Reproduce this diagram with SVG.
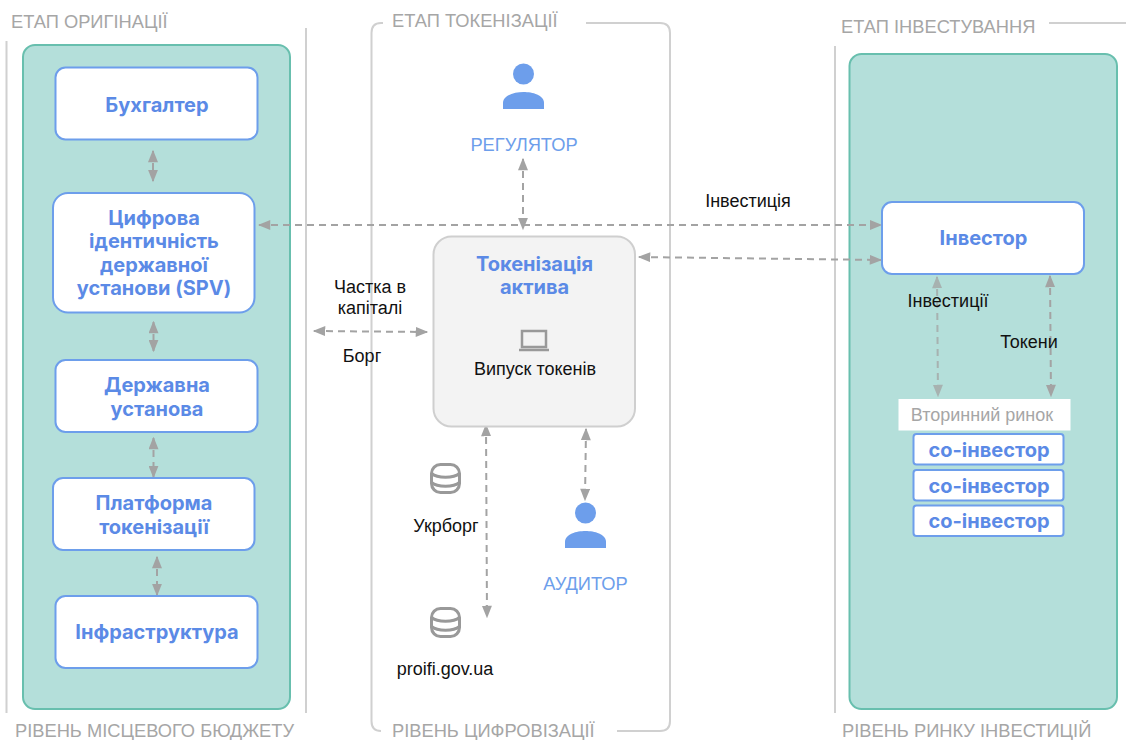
<svg xmlns="http://www.w3.org/2000/svg" width="1126" height="740" viewBox="0 0 1126 740">
<style>
.frame{fill:none;stroke:#d0d0d0;stroke-width:2}
.panel{fill:#b4dfda;stroke:#68bfae;stroke-width:2}
.box{fill:#fff;stroke:#6d9eeb;stroke-width:2}
.title{font:700 20px Inter,"Liberation Sans",sans-serif;fill:#5b8ae6;text-anchor:middle}
.stage{font:400 18.300px "Liberation Sans",sans-serif;fill:#a6a6a6}
.role{font:400 18.300px "Liberation Sans",sans-serif;fill:#6d9eeb;text-anchor:middle}
.lbl{font:400 18px "Liberation Sans",sans-serif;fill:#111;text-anchor:middle}
.c{fill:none;stroke:#a3a3a3;stroke-width:2;stroke-dasharray:7 5;marker-start:url(#a);marker-end:url(#a)}
.t{opacity:.75}
.person{fill:#6d9eeb}
.db{fill:none;stroke:#999;stroke-width:3}
</style>
<defs>
<marker id="a" viewBox="0 0 10 8" refX="9" refY="4" markerWidth="13" markerHeight="10" markerUnits="userSpaceOnUse" orient="auto-start-reverse"><path d="M0 0L10 4L0 8z" fill="#a3a3a3"/></marker>
<g id="personIcon"><circle cx="0" cy="-35" r="10.500"/><path d="M-20.500 0V-6C-20.500 -14 -9 -17 0 -17S20.500 -14 20.500 -6V0z"/></g>
<g id="dbIcon"><rect x="-14" y="-14" width="28" height="28" rx="9" class="db"/><path d="M-14 -5C-8 0 8 0 14 -5M-14 4C-8 9 8 9 14 4" class="db"/></g>
</defs>
<g id="frames">
<path class="frame" d="M6.500 41V713M306 28V713M835 46V713M1049 23H1126"/>
<path class="frame" d="M381 23H383M586 23H660Q670 23 670 33V721Q670 731 660 731H617M381 731Q371.500 731 371.500 721V33Q371.500 23 381 23"/>
</g>
<g id="panels">
<rect class="panel" x="23" y="45" width="267" height="664" rx="12"/>
<rect class="panel" x="849.500" y="54" width="267.500" height="655" rx="12"/>
</g>
<g id="stage-labels">
<text class="stage" x="11" y="28">ЕТАП ОРИГІНАЦІЇ</text>
<text class="stage" x="392" y="27">ЕТАП ТОКЕНІЗАЦІЇ</text>
<text class="stage" x="841" y="33">ЕТАП ІНВЕСТУВАННЯ</text>
<text class="stage" x="15" y="737">РІВЕНЬ МІСЦЕВОГО БЮДЖЕТУ</text>
<text class="stage" x="392" y="737">РІВЕНЬ ЦИФРОВІЗАЦІЇ</text>
<text class="stage" x="842" y="737">РІВЕНЬ РИНКУ ІНВЕСТИЦІЙ</text>
</g>
<g id="connectors">
<path class="c" d="M153 151V181"/>
<path class="c" d="M153.500 322V351"/>
<path class="c" d="M153.500 438V477"/>
<path class="c" d="M157 557V595"/>
<path class="c" d="M259 225H881"/>
<path class="c" d="M523 159V229"/>
<path class="c" d="M639 257L881 260"/>
<path class="c" d="M314 331L427 332"/>
<path class="c" d="M486 425L487 617"/>
<path class="c" d="M586 429L585 500"/>
<path class="c t" d="M937 277L938 396"/>
<path class="c" d="M1050 276L1051 396"/>
</g>
<g id="bookkeeper"><rect class="box" x="55.500" y="67.500" width="202" height="72" rx="10"/><text class="title" x="157" y="112">Бухгалтер</text></g>
<g id="digital-id"><rect class="box" x="53" y="193" width="201.500" height="119.500" rx="15"/><text class="title"><tspan x="154" y="225">Цифрова</tspan><tspan x="154" y="248">ідентичність</tspan><tspan x="154" y="272">державної</tspan><tspan x="154" y="295">установи (SPV)</tspan></text></g>
<g id="state-inst"><rect class="box" x="55.500" y="360" width="202" height="72" rx="10"/><text class="title"><tspan x="157" y="392">Державна</tspan><tspan x="157" y="416">установа</tspan></text></g>
<g id="platform"><rect class="box" x="53" y="478" width="201.500" height="72" rx="10"/><text class="title"><tspan x="154" y="510">Платформа</tspan><tspan x="154" y="534">токенізації</tspan></text></g>
<g id="infrastructure"><rect class="box" x="55.500" y="596" width="202" height="72" rx="10"/><text class="title" x="157" y="639">Інфраструктура</text></g>
<g id="regulator"><use href="#personIcon" class="person" x="523.500" y="109"/><text class="role" x="524" y="151">РЕГУЛЯТОР</text></g>
<g id="tokenization"><rect x="433.500" y="236.500" width="201.500" height="190" rx="18" fill="#f3f3f3" stroke="#cfcfcf" stroke-width="2"/><text class="title"><tspan x="534.500" y="271">Токенізація</tspan><tspan x="534.500" y="294">актива</tspan></text>
<path d="M522 331H546V347H522ZM519 350H549" fill="none" stroke="#999" stroke-width="2.500"/>
<text class="lbl" x="535" y="375">Випуск токенів</text></g>
<g id="auditor"><use href="#personIcon" class="person" x="585.500" y="548"/><text class="role" x="585.500" y="590">АУДИТОР</text></g>
<g id="ukrborg"><use href="#dbIcon" x="445.500" y="478.500"/><text class="lbl" x="446" y="532">Укрборг</text></g>
<g id="proifi"><use href="#dbIcon" x="445.500" y="622.500"/><text class="lbl" x="445" y="675">proifi.gov.ua</text></g>
<g id="investor"><rect class="box" x="882" y="202" width="202" height="72" rx="10"/><text class="title" x="983.500" y="245">Інвестор</text></g>
<g id="secondary"><rect x="898.500" y="399" width="172" height="31.500" fill="#fff"/><text x="982" y="421" text-anchor="middle" style="font:400 18px 'Liberation Sans',sans-serif;fill:#a6a6a6">Вторинний ринок</text></g>
<g id="co1"><rect class="box" x="913.500" y="434" width="150" height="30.500" rx="3"/><text class="title" x="989" y="457">со-інвестор</text></g>
<g id="co2"><rect class="box" x="913.500" y="470" width="150" height="30.500" rx="3"/><text class="title" x="989" y="493">со-інвестор</text></g>
<g id="co3"><rect class="box" x="913.500" y="505.500" width="150" height="30.500" rx="3"/><text class="title" x="989" y="528">со-інвестор</text></g>
<g id="edge-labels">
<text class="lbl" x="748" y="207">Інвестиція</text>
<text class="lbl"><tspan x="370" y="293">Частка в</tspan><tspan x="370" y="314">капіталі</tspan></text>
<text class="lbl" x="362" y="362">Борг</text>
<text class="lbl" x="948" y="307">Інвестиції</text>
<text class="lbl" x="1029" y="348">Токени</text>
</g>
</svg>
